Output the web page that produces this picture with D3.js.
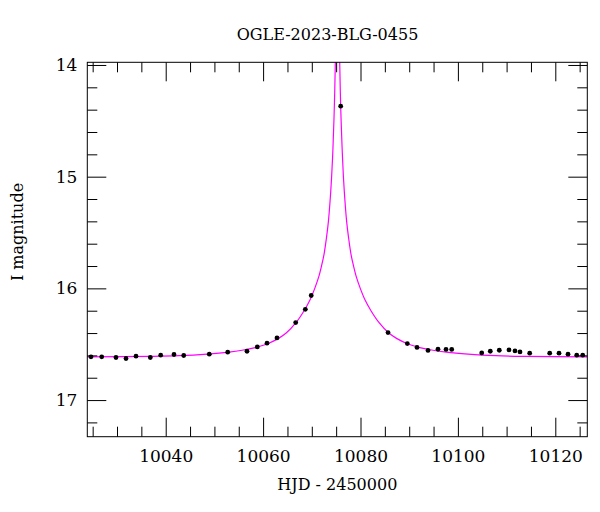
<!DOCTYPE html>
<html><head><meta charset="utf-8">
<script src="https://cdn.jsdelivr.net/npm/d3@7"></script>
<style>body{margin:0;background:#fff}</style>
</head><body><svg id="c" width="600" height="512"></svg>
<script>
const title = "OGLE-2023-BLG-0455";
const xLabel = "HJD - 2450000";
const yLabel = "I magnitude";

// OGLE I-band photometry
const hjd  = [10024.66,10026.86,10029.79,10031.85,10033.90,10036.84,10038.97,10041.70,10043.70,10048.95,
              10052.73,10056.69,10058.81,10060.80,10062.85,10066.69,10068.67,10069.88,10075.93,
              10085.65,10089.61,10091.60,10093.86,10095.91,10097.56,10098.73,10104.89,10106.65,10108.50,
              10110.49,10111.72,10112.75,10114.74,10118.85,10120.76,10122.61,10124.40,10125.63];
const imag = [16.613,16.613,16.619,16.628,16.607,16.619,16.598,16.592,16.601,16.589,
              16.571,16.563,16.524,16.491,16.444,16.306,16.188,16.064,14.369,
              16.396,16.494,16.529,16.556,16.545,16.547,16.547,16.578,16.563,16.554,
              16.551,16.560,16.569,16.580,16.580,16.580,16.589,16.598,16.598];
const ierr = [0.010,0.010,0.010,0.010,0.010,0.010,0.010,0.010,0.010,0.010,
              0.010,0.010,0.010,0.010,0.010,0.010,0.010,0.010,0.012,
              0.010,0.010,0.010,0.010,0.010,0.010,0.010,0.010,0.010,0.010,
              0.010,0.010,0.010,0.010,0.010,0.010,0.010,0.010,0.010];

// model light curve
const modelT   = [10023.88,10036.78,10042.78,10048.48,10052.98,10055.68,10058.38,10060.68,10063.08,10064.74,
                  10066.87,10068.41,10069.67,10070.61,10071.40,10071.99,10072.49,10073.00,10073.41,10073.78,
                  10074.07,10074.34,10074.54,10074.70,10074.82,10074.91,10075.28,
                  10075.65,10075.74,10075.86,10076.02,10076.23,10076.49,10076.78,10077.15,10077.56,10078.07,
                  10078.57,10079.16,10079.95,10080.89,10082.15,10083.69,10085.82,10087.48,10089.88,10092.18,
                  10094.88,10097.58,10102.08,10107.78,10113.78,10126.68];
const modelMag = [16.614,16.609,16.603,16.589,16.571,16.554,16.530,16.500,16.450,16.400,
                  16.300,16.200,16.100,16.000,15.900,15.800,15.700,15.550,15.400,15.200,
                  15.000,14.750,14.500,14.250,14.000,13.750,13.550,
                  13.750,14.000,14.250,14.500,14.750,15.000,15.200,15.400,15.550,15.700,
                  15.800,15.900,16.000,16.100,16.200,16.300,16.400,16.450,16.500,16.530,
                  16.554,16.571,16.589,16.603,16.609,16.614];

const xMajorTicks = [10040,10060,10080,10100,10120];
const xMinorTicks = [10025,10030,10035,10045,10050,10055,10065,10070,10075,10085,10090,10095,10105,10110,10115,10125];
const yMajorTicks = [14,15,16,17];
const yMinorTicks = [14.2,14.4,14.6,14.8,15.2,15.4,15.6,15.8,16.2,16.4,16.6,16.8,17.2];
const xDomain = [10023.9, 10126.57];
const yDomain = [13.976, 17.328];

const W = 600, H = 512;
const m = {left: 87.3, right: 12.7, top: 62.3, bottom: 75.3};
const svg = d3.select("#c");
const x = d3.scaleLinear().domain(xDomain).range([m.left, W - m.right]);
const y = d3.scaleLinear().domain(yDomain).range([m.top, H - m.bottom]);
const font = "'DejaVu Serif', 'Liberation Serif', serif";

svg.append("clipPath").attr("id", "clip").append("rect")
  .attr("x", m.left).attr("y", m.top)
  .attr("width", W - m.left - m.right).attr("height", H - m.top - m.bottom);

// model curve
const line = d3.line().x((d, i) => x(modelT[i])).y((d, i) => y(modelMag[i])).curve(d3.curveCatmullRom.alpha(0.5));
svg.append("path").datum(modelT).attr("d", line)
  .attr("fill", "none").attr("stroke", "#ff00ff").attr("stroke-width", 1.2)
  .attr("clip-path", "url(#clip)");

// points
const pts = svg.append("g").attr("clip-path", "url(#clip)");
pts.selectAll("line.eb").data(hjd).join("line").attr("class", "eb")
  .attr("x1", (d) => x(d)).attr("x2", (d) => x(d))
  .attr("y1", (d, i) => y(imag[i] - ierr[i])).attr("y2", (d, i) => y(imag[i] + ierr[i]))
  .attr("stroke", "#000").attr("stroke-width", 1);
pts.selectAll("circle").data(hjd).join("circle")
  .attr("cx", (d) => x(d)).attr("cy", (d, i) => y(imag[i])).attr("r", 2.4).attr("fill", "#000");

// axes (ticks inward on all four sides)
function addAxis(gen, tr) {
  const g = svg.append("g").attr("transform", tr).call(gen);
  g.select(".domain").remove();
  g.selectAll(".tick line").attr("stroke", "#000").attr("stroke-width", 1);
  g.selectAll("text").attr("font-family", font).attr("font-size", 17).attr("fill", "#000");
  return g;
}
const ph = H - m.bottom, pw = W - m.right;
addAxis(d3.axisBottom(x).tickValues(xMajorTicks).tickSize(-19).tickPadding(13.5).tickFormat(d3.format("d")), `translate(0,${ph})`);
addAxis(d3.axisBottom(x).tickValues(xMinorTicks).tickSize(-10).tickFormat(""), `translate(0,${ph})`);
addAxis(d3.axisTop(x).tickValues(xMajorTicks).tickSize(-19).tickFormat(""), `translate(0,${m.top})`);
addAxis(d3.axisTop(x).tickValues(xMinorTicks).tickSize(-10).tickFormat(""), `translate(0,${m.top})`);
addAxis(d3.axisLeft(y).tickValues(yMajorTicks).tickSize(-19).tickPadding(10).tickFormat(d3.format("d")), `translate(${m.left},0)`);
addAxis(d3.axisLeft(y).tickValues(yMinorTicks).tickSize(-10).tickFormat(""), `translate(${m.left},0)`);
addAxis(d3.axisRight(y).tickValues(yMajorTicks).tickSize(-19).tickFormat(""), `translate(${pw},0)`);
addAxis(d3.axisRight(y).tickValues(yMinorTicks).tickSize(-10).tickFormat(""), `translate(${pw},0)`);

svg.append("rect").attr("x", m.left).attr("y", m.top)
  .attr("width", pw - m.left).attr("height", ph - m.top)
  .attr("fill", "none").attr("stroke", "#000").attr("stroke-width", 1);

svg.append("text").attr("x", 327.5).attr("y", 40).attr("text-anchor", "middle")
  .attr("font-family", font).attr("font-size", 16).text(title);
svg.append("text").attr("x", 337.3).attr("y", 489.5).attr("text-anchor", "middle")
  .attr("font-family", font).attr("font-size", 16).text(xLabel);
svg.append("text").attr("transform", "translate(22.5,232) rotate(-90)").attr("text-anchor", "middle")
  .attr("font-family", font).attr("font-size", 16).text(yLabel);
</script></body></html>
